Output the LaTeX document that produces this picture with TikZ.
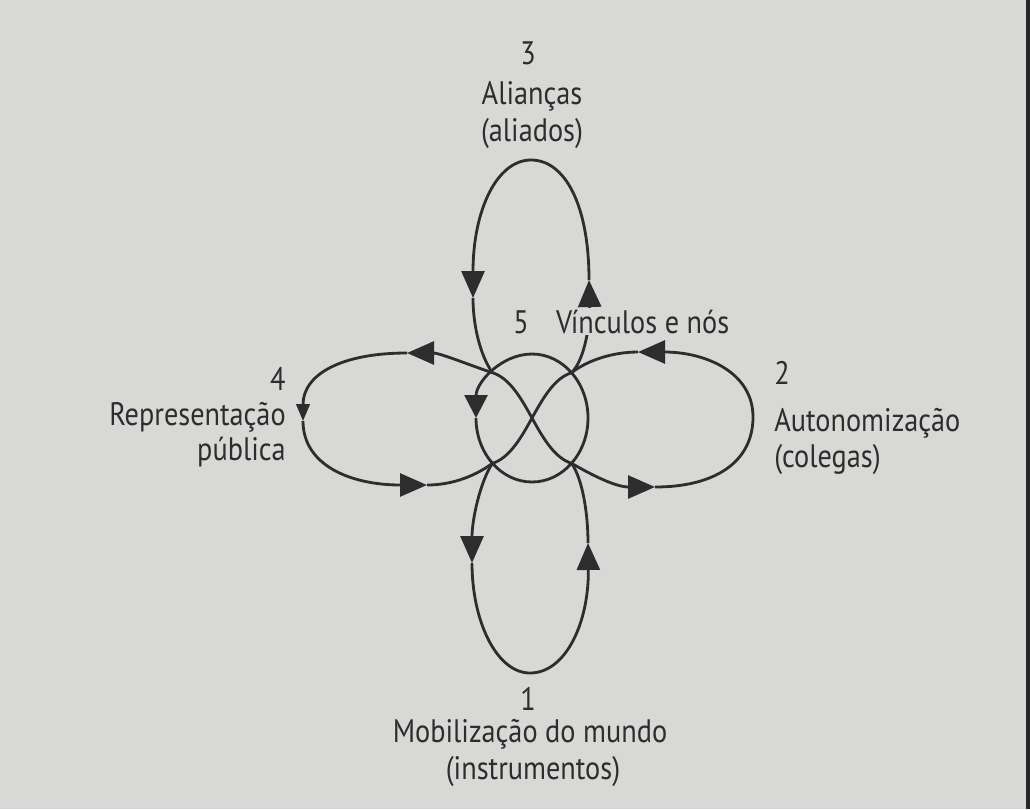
\documentclass[tikz,border=0pt]{standalone}
\usepackage{fontspec}
\setmainfont{PT Sans}[FakeStretch=0.87]
\usetikzlibrary{arrows.meta}
\definecolor{paper}{RGB}{216,216,214}
\definecolor{ink}{RGB}{45,45,45}
\begin{document}
\begin{tikzpicture}[x=0.02cm,y=-0.02cm,
  line/.style={draw=ink, line width=1.6pt},
  tip/.style={-{Triangle[length=0.54cm,width=0.46cm]}},
  ringtip/.style={-{Triangle[length=0.46cm,width=0.46cm]}},
  smalltip/.style={-{Triangle[length=0.34cm,width=0.27cm]}},
  lbl/.style={text=ink, font=\fontsize{18.5}{22}\selectfont, inner sep=0pt}]
\fill[paper] (0,0) rectangle (1030,809);
\useasboundingbox (0,0) rectangle (1030,809);
\fill[black!85] (1026,0) rectangle (1030,809);
% key points
\coordinate (C) at (532,418);
\coordinate (UL) at (492.4,372.7);
\coordinate (UR) at (571.6,372.7);
\coordinate (LL) at (492.4,463.3);
\coordinate (LR) at (571.6,463.3);
\coordinate (RT) at (532,354);
\coordinate (RB) at (532,482);
\coordinate (RL) at (476,418);
\coordinate (RR) at (588,418);
\coordinate (A3R) at (589,280);
\coordinate (T3) at (531,160);
\coordinate (A3L) at (473,298);
\coordinate (A1L) at (472,563);
\coordinate (B1) at (530,673);
\coordinate (A1R) at (588,543);
\coordinate (A4T) at (407,353);
\coordinate (A4L) at (303,421);
\coordinate (A4B) at (427,485);
\coordinate (A2B) at (655,487);
\coordinate (R2) at (753,417);
\coordinate (A2T) at (638,352);
% central ring
\draw[line,ringtip] (RT) .. controls (501.1,354) and (476,382.7) .. (RL);
\draw[line] (RL) .. controls (476,453.3) and (501.1,482) .. (RB)
  .. controls (562.9,482) and (588,453.3) .. (RR)
  .. controls (588,382.7) and (562.9,354) .. (RT);
% loop 3 (top)
\draw[line,tip] (UR) .. controls (586,358) and (590,320) .. (A3R);
\draw[line,tip] (A3R) .. controls (589,205) and (565,160) .. (T3)
  .. controls (497,160) and (473,210) .. (A3L);
\draw[line] (A3L) .. controls (473,325) and (480,355) .. (UL);
% loop 1 (bottom)
\draw[line,tip] (LL) .. controls (480,482) and (472,520) .. (A1L);
\draw[line,tip] (A1L) .. controls (472,622) and (497,673) .. (B1)
  .. controls (566,673) and (589,622) .. (A1R);
\draw[line] (A1R) .. controls (588,515) and (583,480) .. (LR);
% loop 4 (left)
\draw[line,tip] (C) .. controls (522,400) and (510,378) .. (UL)
  .. controls (472,366) and (440,353) .. (A4T);
\draw[line,smalltip] (A4T) .. controls (342,353) and (303,374) .. (A4L);
\draw[line,tip] (A4L) .. controls (303,465) and (350,485) .. (A4B);
\draw[line] (A4B) .. controls (455,485) and (478,474) .. (LL)
  .. controls (510,458) and (522,436) .. (C);
% loop 2 (right)
\draw[line,tip] (C) .. controls (542,436) and (554,458) .. (LR)
  .. controls (590,474) and (615,487) .. (A2B);
\draw[line,tip] (A2B) .. controls (715,487) and (753,462) .. (R2)
  .. controls (753,372) and (705,352) .. (A2T);
\draw[line] (A2T) .. controls (610,352) and (585,362) .. (UR)
  .. controls (554,378) and (542,400) .. (C);
% labels
\node[lbl,anchor=base] (n3) at (528,64) {3};
\node[lbl,anchor=base] (al) at (532,104) {Alianças};
\node[lbl,anchor=base] (ad) at (532,141) {(aliados)};
\node[lbl,anchor=base] (n5) at (521,333) {5};
\node[lbl,anchor=base west,fill=paper,inner sep=1pt] (vn) at (554,333) {Vínculos e nós};
\node[lbl,anchor=base east] (n4) at (286,390) {4};
\node[lbl,anchor=base east] (rp) at (286,425) {Representação};
\node[lbl,anchor=base east] (pb) at (286,460) {pública};
\node[lbl,anchor=base west] (n2) at (774,384) {2};
\node[lbl,anchor=base west] (au) at (774,431) {Autonomização};
\node[lbl,anchor=base west] (co) at (774,467) {(colegas)};
\node[lbl,anchor=base] (n1) at (528,710) {1};
\node[lbl,anchor=base] (mo) at (530,742) {Mobilização do mundo};
\node[lbl,anchor=base] (in) at (533,779) {(instrumentos)};
\end{tikzpicture}
\end{document}
